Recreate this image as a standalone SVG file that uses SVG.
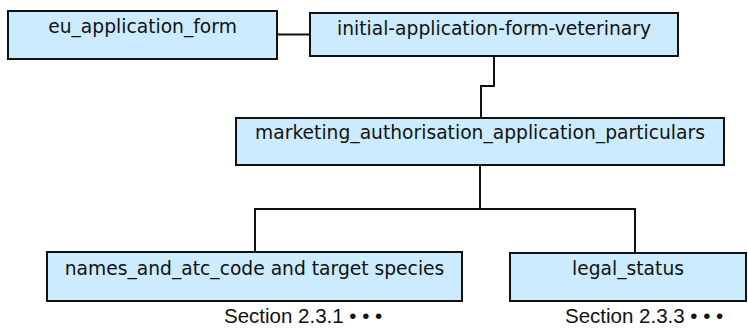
<svg xmlns="http://www.w3.org/2000/svg" width="748" height="329" viewBox="0 0 748 329">
<style>
.box{fill:#cdebff;stroke:#111;stroke-width:2}
.lbl{font-family:"DejaVu Sans",Verdana,sans-serif;font-size:18.7px;fill:#111;text-anchor:middle}
.sec{font-family:"Liberation Sans",Arial,sans-serif;font-size:20.5px;fill:#111}
.con{fill:none;stroke:#111;stroke-width:2}
</style>
<rect width="748" height="329" fill="#fff"/>
<g id="connectors">
<path class="con" d="M277 34.5H310"/>
<path class="con" d="M494 56V86H481V118"/>
<path class="con" d="M480 165V209"/>
<path class="con" d="M255 252V209H635V253"/>
</g>
<g id="eu_application_form">
<rect class="box" x="8" y="11" width="269" height="48"/>
<text class="lbl" x="142.5" y="33">eu_application_form</text>
</g>
<g id="initial-application-form-veterinary">
<rect class="box" x="310" y="13" width="368" height="43"/>
<text class="lbl" x="494" y="35">initial-application-form-veterinary</text>
</g>
<g id="marketing_authorisation_application_particulars">
<rect class="box" x="236" y="118" width="488" height="47"/>
<text class="lbl" x="480" y="139">marketing_authorisation_application_particulars</text>
</g>
<g id="names_and_atc_code">
<rect class="box" x="47" y="252" width="415" height="49"/>
<text class="lbl" x="254.5" y="275">names_and_atc_code and target species</text>
<text class="sec" x="224" y="322.5">Section 2.3.1 • • •</text>
</g>
<g id="legal_status">
<rect class="box" x="510" y="253" width="236" height="48"/>
<text class="lbl" x="628" y="275">legal_status</text>
<text class="sec" x="565" y="322.5">Section 2.3.3 • • •</text>
</g>
</svg>
